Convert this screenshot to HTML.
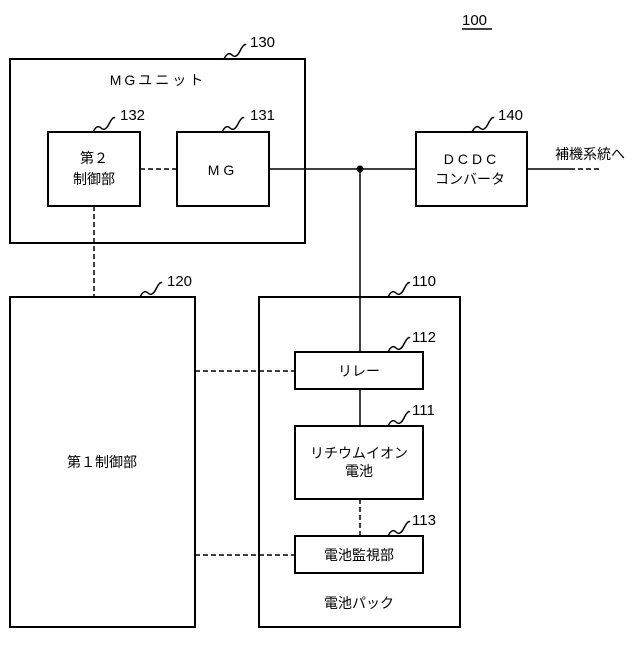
<!DOCTYPE html>
<html><head><meta charset="utf-8"><style>
body{margin:0;background:#fff}
svg text{font-family:"Liberation Sans","Noto Sans CJK JP",sans-serif;fill:#000}
</style></head><body>
<svg width="640" height="640" viewBox="0 0 640 640" xmlns="http://www.w3.org/2000/svg">
<g fill="none" stroke="#000" stroke-width="2">
<rect x="10" y="59" width="295" height="184"/>
<rect x="48" y="132" width="92" height="74"/>
<rect x="177" y="132" width="92" height="74"/>
<rect x="416" y="132" width="111" height="74"/>
<rect x="10" y="297" width="185" height="330"/>
<rect x="259" y="297" width="201" height="330"/>
<rect x="295" y="352" width="128" height="37"/>
<rect x="295" y="426" width="128" height="73"/>
<rect x="295" y="536" width="128" height="37"/>
</g>
<g stroke="#000" stroke-width="1.5" fill="none">
<line x1="269" y1="169" x2="416" y2="169"/>
<line x1="360" y1="169" x2="360" y2="352"/>
<line x1="360" y1="389" x2="360" y2="426"/>
<line x1="527" y1="169" x2="570" y2="169"/>
<g stroke-dasharray="5,3">
<line x1="140" y1="169" x2="177" y2="169"/>
<line x1="94" y1="206" x2="94" y2="297"/>
<line x1="195" y1="371" x2="295" y2="371"/>
<line x1="195" y1="555" x2="295" y2="555"/>
<line x1="360" y1="499" x2="360" y2="536"/>
<line x1="570" y1="169" x2="600" y2="169"/>
</g>
<path d="M224 59 q4-8 8-4 t8-4 t6-6"/>
<path d="M93 132 q4-8 8-4 t8-4 t6-6"/>
<path d="M222 132 q4-8 8-4 t8-4 t6-6"/>
<path d="M472 132 q4-8 8-4 t8-4 t6-6"/>
<path d="M140 297 q4-8 8-4 t8-4 t6-6"/>
<path d="M388 297 q4-8 8-4 t8-4 t6-6"/>
<path d="M388 352 q4-8 8-4 t8-4 t6-6"/>
<path d="M388 426 q4-8 8-4 t8-4 t6-6"/>
<path d="M388 536 q4-8 8-4 t8-4 t6-6"/>
<line x1="462" y1="29" x2="492" y2="29"/>
</g>
<circle cx="360" cy="169" r="3.5" fill="#000"/>
<g font-size="15">
<text x="462" y="25">100</text>
<text x="250" y="47">130</text>
<text x="120" y="120">132</text>
<text x="250" y="120">131</text>
<text x="498" y="120">140</text>
<text x="167" y="286">120</text>
<text x="412" y="286">110</text>
<text x="412" y="342">112</text>
<text x="412" y="415">111</text>
<text x="412" y="525">113</text>
</g>
<g font-size="14" text-anchor="middle">
<text x="158" y="85" letter-spacing="3">MGユニット</text>
<text x="94" y="163">第２</text>
<text x="94" y="184">制御部</text>
<text x="223" y="175" letter-spacing="4">MG</text>
<text x="472" y="164" letter-spacing="4">DCDC</text>
<text x="470" y="184">コンバータ</text>
<text x="102" y="467">第１制御部</text>
<text x="359" y="376">リレー</text>
<text x="359" y="458">リチウムイオン</text>
<text x="359" y="476">電池</text>
<text x="359" y="560">電池監視部</text>
<text x="359" y="608">電池パック</text>
</g>
<text x="555" y="159" font-size="14">補機系統へ</text>
</svg>
</body></html>
